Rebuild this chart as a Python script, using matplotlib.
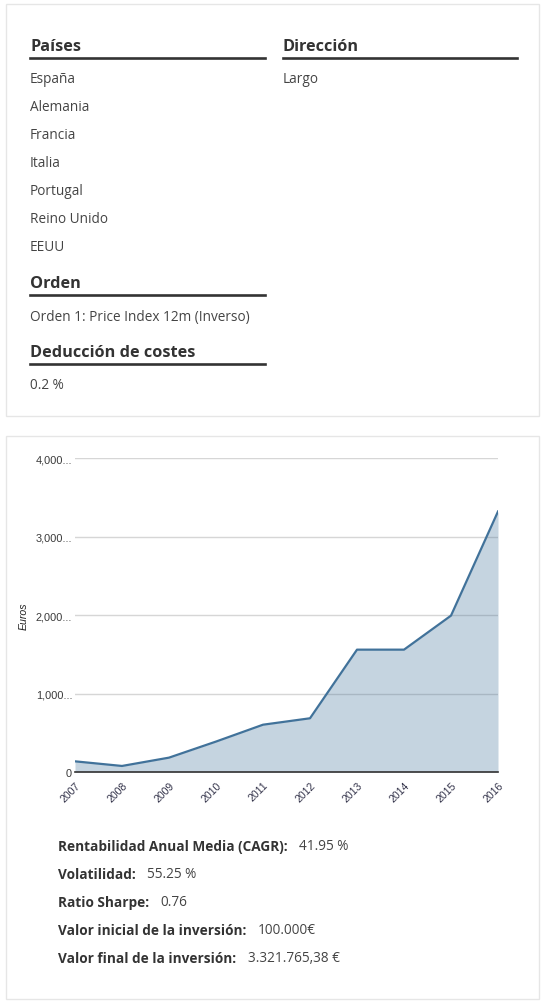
import matplotlib.pyplot as plt
from matplotlib.patches import Rectangle
from matplotlib.lines import Line2D
from matplotlib.transforms import Affine2D

# Data
years = [2007, 2008, 2009, 2010, 2011, 2012, 2013, 2014, 2015, 2016]
euros = [136, 77, 183, 388, 603, 685, 1560, 1560, 1994, 3322]
y_ticks = [0, 1000, 2000, 3000, 4000]
y_tick_labels = ["0", "1,000...", "2,000...", "3,000...", "4,000..."]

paises = ["España", "Alemania", "Francia", "Italia", "Portugal", "Reino Unido", "EEUU"]
direccion = ["Largo"]
orden = ["Orden 1: Price Index 12m (Inverso)"]
costes = ["0.2 %"]

stat_labels = ["Rentabilidad Anual Media (CAGR):", "Volatilidad:", "Ratio Sharpe:",
               "Valor inicial de la inversión:", "Valor final de la inversión:"]
stat_values = ["41.95 %", "55.25 %", "0.76", "100.000€", "3.321.765,38 €"]

W, H = 544, 1004
fig = plt.figure(figsize=(W / 100, H / 100), dpi=100)
# pixel coordinates, origin top-left
px = Affine2D().scale(1 / W, -1 / H).translate(0, 1) + fig.transFigure

HEAD = "#333333"
BODY = "#444444"
FONT = "Open Sans"

# cards (drawn behind everything)
for (x0, y0, x1, y1) in [(6, 4.5, 539, 416.5), (6, 436.5, 539, 1000)]:
    fig.patches.append(Rectangle((x0, y0), x1 - x0, y1 - y0, transform=px,
                                 facecolor="none", edgecolor="#e6e6e6", lw=1,
                                 zorder=-5))


def heading(x, y, text, width):
    fig.text(x, y, text, transform=px, fontsize=11.7, fontweight="bold",
             color=HEAD, family=FONT, va="baseline")
    fig.lines.append(Line2D([x, x + width], [y + 7.5, y + 7.5], transform=px,
                            color="#333333", lw=1.9))


def body(x, y, text):
    fig.text(x, y, text, transform=px, fontsize=9.8, color=BODY,
             family=FONT, va="baseline")


heading(30, 51, "Países", 235)
for i, p in enumerate(paises):
    body(30, 83.3 + 28 * i, p)

heading(283, 51, "Dirección", 234)
for i, d in enumerate(direccion):
    body(283, 83.3 + 28 * i, d)

heading(30, 288.3, "Orden", 235)
body(30, 320.7, orden[0])

heading(30, 357.3, "Deducción de costes", 235)
body(30, 389, costes[0])

# chart
ax = fig.add_axes([75 / W, (H - 773) / H, 423 / W, 313.7 / H])
ax.patch.set_alpha(0)
line_col = "#41729a"
ax.fill_between(years, euros, 0, color=line_col, alpha=0.3, lw=0, zorder=2)
ax.plot(years, euros, color=line_col, lw=1.6, zorder=3)
ax.set_xlim(years[0], years[-1])
ax.set_ylim(0, 4000)
ax.set_yticks(y_ticks)
ax.set_yticklabels(y_tick_labels)
ax.set_xticks(years)
ax.set_xticklabels([str(y) for y in years], rotation=45, ha="right",
                   rotation_mode="anchor")
ax.yaxis.grid(True, color="#d6d6d6", lw=1, zorder=1)
ax.set_axisbelow(True)
for s in ["top", "right", "left"]:
    ax.spines[s].set_visible(False)
ax.spines["bottom"].set_color("#333333")
ax.spines["bottom"].set_linewidth(1.2)
ax.spines["bottom"].set_zorder(4)
ax.tick_params(axis="y", length=0, pad=2, labelsize=7.9, labelcolor="#3a3a3a")
ax.tick_params(axis="x", length=0, pad=5.5, labelsize=7.6, labelcolor="#33334a")
for lab in ax.get_xticklabels() + ax.get_yticklabels():
    lab.set_family("Liberation Sans")
ax.set_ylabel("Euros", fontsize=7.6, style="italic", color="#222222",
              family="Liberation Sans")
ax.yaxis.set_label_coords(-(75 - 28.4) / 423, (773 - 616) / 313.7)

# stats
for i, (lab, val) in enumerate(zip(stat_labels, stat_values)):
    t = fig.text(57.5, 851 + 28 * i, lab, transform=px, fontsize=9.8,
                 fontweight="bold", color=HEAD, family=FONT, va="baseline")
    ax.annotate(val, xy=(1, 0), xycoords=t, xytext=(8.8, 0),
                textcoords="offset points", fontsize=9.8, color=BODY,
                family=FONT, va="bottom", annotation_clip=False)

fig.savefig("out.png", dpi=100)
